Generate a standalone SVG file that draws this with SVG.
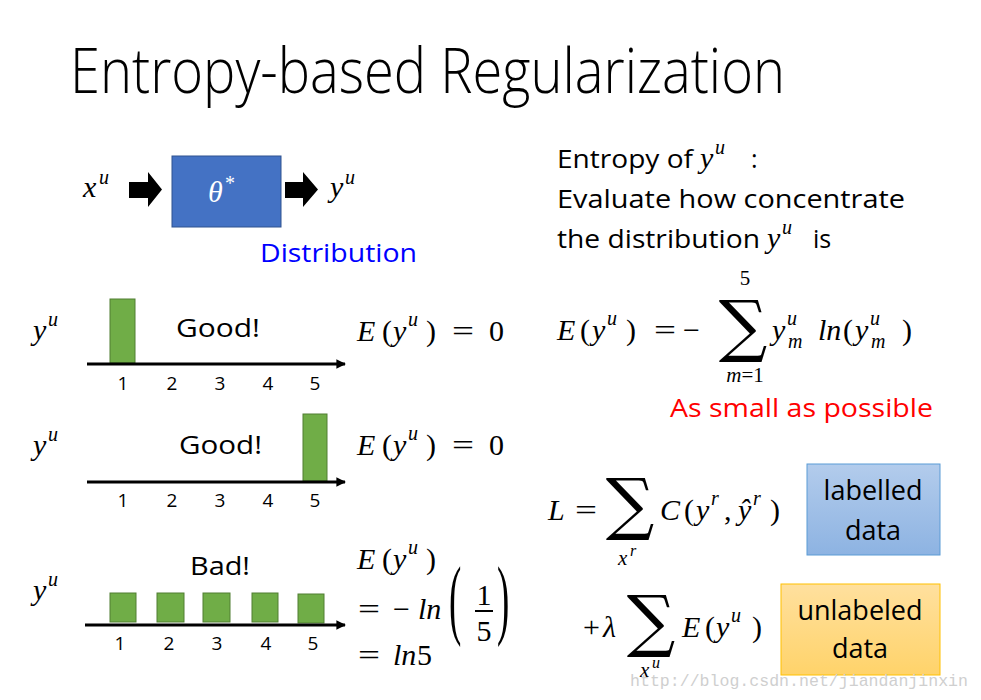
<svg xmlns="http://www.w3.org/2000/svg" width="981" height="700" viewBox="0 0 981 700">
<defs>
<style>
.t{font-family:"Open Sans","Noto Sans","Liberation Sans",sans-serif;fill:#000}
.m{font-family:"Liberation Serif","DejaVu Serif",serif;font-size:30px;fill:#000}
.i{font-style:italic}
.s{font-size:20px}
.m22{font-size:21px}
.m16{font-size:16px}
.n{font-family:"Open Sans","Noto Sans","Liberation Sans",sans-serif;font-size:19px;text-anchor:middle}
.bar{fill:#70AD47;stroke:#507E32;stroke-width:1}
.axis{stroke:#000;stroke-width:3;fill:none;marker-end:url(#ah)}
.sig{font-family:"DejaVu Serif","Liberation Serif",serif;text-anchor:middle;font-size:68px;font-weight:300}
.w{fill:#fff}
</style>
<marker id="ah" viewBox="0 0 10 10" refX="9" refY="5" markerWidth="3.2" markerHeight="3.2" orient="auto" markerUnits="strokeWidth">
<path d="M0,0 L10,5 L0,10 z" fill="#000"/>
</marker>
<linearGradient id="gb" x1="0" y1="0" x2="0" y2="1">
<stop offset="0" stop-color="#B3CCEC"/><stop offset="1" stop-color="#8DB3E2"/>
</linearGradient>
<linearGradient id="go" x1="0" y1="0" x2="0" y2="1">
<stop offset="0" stop-color="#FFE09E"/><stop offset="1" stop-color="#FFD36A"/>
</linearGradient>
</defs>
<rect width="981" height="700" fill="#fff"/>

<text id="title" class="t" x="70" y="93" font-size="62" font-weight="300" textLength="715" lengthAdjust="spacingAndGlyphs">Entropy-based Regularization</text>

<g id="model">
<text class="m i" x="83" y="197">x</text><text class="m i s" x="99" y="184">u</text>
<rect x="172" y="156" width="109" height="71" fill="#4472C4" stroke="#2F528F" stroke-width="1"/>
<text class="m i w" x="208" y="202">θ</text><text class="m s w" x="225" y="190">*</text>
<text class="m i" x="330" y="197">y</text><text class="m i s" x="345" y="184">u</text>
<text class="t" x="260" y="262" font-size="26" style="fill:#0000FF" textLength="157" lengthAdjust="spacingAndGlyphs">Distribution</text>
</g>
<g id="arrows">
<polygon points="129,182 148,182 148,172 162,189.5 148,207 148,198 129,198" fill="#000"/>
<polygon points="285,182 303,182 303,172 318,189.5 303,207 303,198 285,198" fill="#000"/>
</g>

<g id="row1">
<text class="m i" x="33" y="340">y</text><text class="m i s" x="48" y="326">u</text>
<rect class="bar" x="110" y="299" width="25" height="64"/>
<line class="axis" x1="87" y1="364" x2="345" y2="364"/>
<text class="n" x="123" y="390">1</text><text class="n" x="172" y="390">2</text><text class="n" x="220" y="390">3</text><text class="n" x="268" y="390">4</text><text class="n" x="315" y="390">5</text>
<text class="t" x="176" y="337" font-size="25" textLength="84" lengthAdjust="spacingAndGlyphs">Good!</text>
<text class="m i" x="357" y="341">E</text><text class="m" x="382" y="341">(</text><text class="m i" x="393" y="341">y</text><text class="m i s" x="408" y="326">u</text><text class="m" x="426" y="341">)</text><text class="m" x="452" y="341" transform="translate(452,341) scale(1.3,1) translate(-452,-341)">=</text><text class="m" x="489" y="341">0</text>
</g>

<g id="row2">
<text class="m i" x="33" y="455">y</text><text class="m i s" x="48" y="441">u</text>
<rect class="bar" x="303" y="414" width="24" height="67"/>
<line class="axis" x1="87" y1="482" x2="345" y2="482"/>
<text class="n" x="123" y="507">1</text><text class="n" x="172" y="507">2</text><text class="n" x="220" y="507">3</text><text class="n" x="268" y="507">4</text><text class="n" x="315" y="507">5</text>
<text class="t" x="179" y="454" font-size="25" textLength="83" lengthAdjust="spacingAndGlyphs">Good!</text>
<text class="m i" x="357" y="455">E</text><text class="m" x="382" y="455">(</text><text class="m i" x="393" y="455">y</text><text class="m i s" x="408" y="440">u</text><text class="m" x="426" y="455">)</text><text class="m" x="452" y="455" transform="translate(452,455) scale(1.3,1) translate(-452,-455)">=</text><text class="m" x="489" y="455">0</text>
</g>

<g id="row3">
<text class="m i" x="33" y="600">y</text><text class="m i s" x="48" y="586">u</text>
<rect class="bar" x="110" y="593" width="26" height="29"/>
<rect class="bar" x="157" y="593" width="27" height="29"/>
<rect class="bar" x="203" y="593" width="27" height="29"/>
<rect class="bar" x="252" y="593" width="26" height="29"/>
<rect class="bar" x="298" y="594" width="26" height="29"/>
<line class="axis" x1="85" y1="625" x2="345" y2="625"/>
<text class="n" x="120" y="650">1</text><text class="n" x="169" y="650">2</text><text class="n" x="217" y="650">3</text><text class="n" x="266" y="650">4</text><text class="n" x="313" y="650">5</text>
<text class="t" x="190" y="575" font-size="25" textLength="60" lengthAdjust="spacingAndGlyphs">Bad!</text>
<text class="m i" x="357" y="569">E</text><text class="m" x="382" y="569">(</text><text class="m i" x="393" y="569">y</text><text class="m i s" x="408" y="554">u</text><text class="m" x="426" y="569">)</text>
<text class="m" x="358" y="619" transform="translate(358,619) scale(1.3,1) translate(-358,-619)">=</text><text class="m" x="393" y="619">−</text><text class="m i" x="418" y="619">ln</text>
<text class="m" transform="translate(449,628) scale(0.42,1)" style="font-size:88px">(</text>
<text class="m" transform="translate(497,628) scale(0.42,1)" style="font-size:88px">)</text>
<text class="m" x="484" y="605" text-anchor="middle">1</text>
<line x1="475" y1="611" x2="493" y2="611" stroke="#000" stroke-width="2"/>
<text class="m" x="484" y="641" text-anchor="middle">5</text>
<text class="m" x="358" y="665" transform="translate(358,665) scale(1.3,1) translate(-358,-665)">=</text><text class="m i" x="393" y="665">ln</text><text class="m" x="417" y="665">5</text>
</g>

<g id="entropy-desc">
<text class="t" x="557" y="168" font-size="25" textLength="136" lengthAdjust="spacingAndGlyphs">Entropy of</text>
<text class="m i" x="700" y="168">y</text><text class="m i s" x="715" y="154">u</text>
<text class="t" x="751" y="168" font-size="25">:</text>
<text class="t" x="557" y="208" font-size="25" textLength="348" lengthAdjust="spacingAndGlyphs">Evaluate how concentrate</text>
<text class="t" x="557" y="248" font-size="25" textLength="203" lengthAdjust="spacingAndGlyphs">the distribution</text>
<text class="m i" x="767" y="248">y</text><text class="m i s" x="782" y="234">u</text>
<text class="t" x="813" y="248" font-size="25">is</text>
</g>

<g id="entropy-formula">
<text class="m i" x="557" y="340">E</text><text class="m" x="580" y="340">(</text><text class="m i" x="592" y="340">y</text><text class="m i s" x="607" y="325">u</text><text class="m" x="626" y="340">)</text>
<text class="m" x="654" y="340" transform="translate(654,340) scale(1.3,1) translate(-654,-340)">=</text><text class="m" x="683" y="340">−</text>
<text class="sig" x="743" y="349">∑</text>
<text class="m m22" x="745" y="285" text-anchor="middle">5</text>
<text class="m m22" x="745" y="382" text-anchor="middle"><tspan class="i">m</tspan>=1</text>
<text class="m i" x="772" y="340">y</text><text class="m i s" x="787" y="325">u</text><text class="m i s" x="788" y="348">m</text>
<text class="m i" x="818" y="340">ln</text><text class="m" x="843" y="340">(</text><text class="m i" x="855" y="340">y</text><text class="m i s" x="870" y="325">u</text><text class="m i s" x="871" y="348">m</text><text class="m" x="902" y="340">)</text>
<text class="t" x="670" y="417" font-size="25" style="fill:#FF0000" textLength="263" lengthAdjust="spacingAndGlyphs">As small as possible</text>
</g>

<g id="loss-labelled">
<text class="m i" x="548" y="520">L</text><text class="m" x="575" y="520" transform="translate(575,520) scale(1.3,1) translate(-575,-520)">=</text>
<text class="sig" x="630" y="527">∑</text>
<text class="m i m22" x="618" y="565">x</text><text class="m i m16" x="630" y="556">r</text>
<text class="m i" x="660" y="520">C</text><text class="m" x="684" y="520">(</text><text class="m i" x="696" y="520">y</text><text class="m i s" x="711" y="505">r</text><text class="m" x="724" y="520">,</text><text class="m i" x="738" y="520">ŷ</text><text class="m i s" x="753" y="505">r</text><text class="m" x="770" y="520">)</text>
</g>
<g id="box-labelled">
<rect x="807" y="464" width="133" height="91" fill="url(#gb)" stroke="#5B9BD5" stroke-width="1"/>
<text class="t" x="873" y="500" font-size="27" text-anchor="middle">labelled</text>
<text class="t" x="873" y="540" font-size="27" text-anchor="middle">data</text>
</g>

<g id="loss-unlabeled">
<text class="m" x="583" y="637">+</text><text class="m i" x="603" y="637">λ</text>
<text class="sig" x="651" y="644">∑</text>
<text class="m i m22" x="640" y="677">x</text><text class="m i m16" x="652" y="668">u</text>
<text class="m i" x="682" y="637">E</text><text class="m" x="705" y="637">(</text><text class="m i" x="716" y="637">y</text><text class="m i s" x="731" y="622">u</text><text class="m" x="752" y="637">)</text>
</g>
<g id="box-unlabeled">
<rect x="781" y="584" width="159" height="91" fill="url(#go)" stroke="#FFC000" stroke-width="1"/>
<text class="t" x="860" y="620" font-size="27" text-anchor="middle">unlabeled</text>
<text class="t" x="860" y="658" font-size="27" text-anchor="middle">data</text>
</g>

<text id="watermark" x="630" y="686" font-family="Liberation Mono,monospace" font-size="17" fill="#cfcfcf" textLength="338" lengthAdjust="spacingAndGlyphs">http://blog.csdn.net/jiandanjinxin</text>
</svg>
